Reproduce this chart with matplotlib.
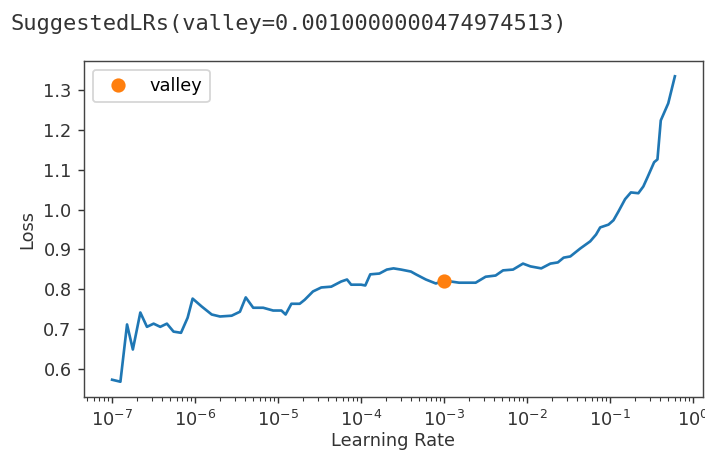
import numpy as np
import matplotlib.pyplot as plt

# learning rate finder output (log10 of lr, loss)
log_lr = [-7.00, -6.90, -6.82, -6.75, -6.66, -6.58, -6.50, -6.42, -6.34, -6.26,
          -6.17, -6.09, -6.03, -5.92, -5.80, -5.70, -5.56, -5.46, -5.39, -5.30,
          -5.18, -5.06, -4.96, -4.91, -4.84, -4.74, -4.68, -4.58, -4.48, -4.36,
          -4.24, -4.17, -4.12, -4.00, -3.95, -3.89, -3.78, -3.69, -3.61, -3.52,
          -3.40, -3.34, -3.22, -3.10, -3.00, -2.92, -2.82, -2.62, -2.50, -2.38,
          -2.29, -2.17, -2.05, -1.96, -1.83, -1.72, -1.63, -1.56, -1.48, -1.36,
          -1.24, -1.17, -1.12, -1.02, -0.96, -0.90, -0.82, -0.75, -0.66, -0.60,
          -0.55, -0.47, -0.43, -0.39, -0.30, -0.22]
losses = [0.572, 0.567, 0.711, 0.648, 0.741, 0.705, 0.713, 0.705, 0.713, 0.693,
          0.690, 0.728, 0.776, 0.756, 0.736, 0.731, 0.733, 0.743, 0.779, 0.753,
          0.753, 0.746, 0.746, 0.736, 0.763, 0.763, 0.773, 0.794, 0.804, 0.806,
          0.819, 0.824, 0.811, 0.811, 0.809, 0.837, 0.839, 0.849, 0.852, 0.849,
          0.844, 0.837, 0.824, 0.814, 0.821, 0.819, 0.816, 0.816, 0.831, 0.834,
          0.847, 0.849, 0.864, 0.857, 0.852, 0.864, 0.867, 0.879, 0.882, 0.902,
          0.920, 0.937, 0.955, 0.962, 0.973, 0.995, 1.026, 1.043, 1.041, 1.058,
          1.081, 1.119, 1.126, 1.224, 1.267, 1.335]

valley_lr = 0.0010000000474974513
valley_loss = 0.821
title_txt = 'SuggestedLRs(valley=0.0010000000474974513)'

lrs = 10.0 ** np.array(log_lr)

dpi = 128
fig = plt.figure(figsize=(705 / dpi, 452 / dpi), dpi=dpi)
fig.set_facecolor('white')
ax = fig.add_axes([0.1191, 0.1217, 0.8781, 0.7433])

ax.plot(lrs, losses, color='#1f77b4')
ax.plot(valley_lr, valley_loss, 'o', c='#ff7f0e', markersize=7, label='valley')
ax.set_xscale('log')
ax.set_ylabel('Loss', color='#333333')
ax.set_xlabel('Learning Rate', color='#333333', labelpad=1.5)
ax.legend(loc='upper left')
ax.tick_params(colors='#333333', which='both')
for s in ax.spines.values():
    s.set_color('#444444')

fig.text(0.015, 0.948, title_txt, family='DejaVu Sans Mono', fontsize=12.4,
         color='#333333', va='center', ha='left')

fig.savefig('out.png', dpi=dpi)
